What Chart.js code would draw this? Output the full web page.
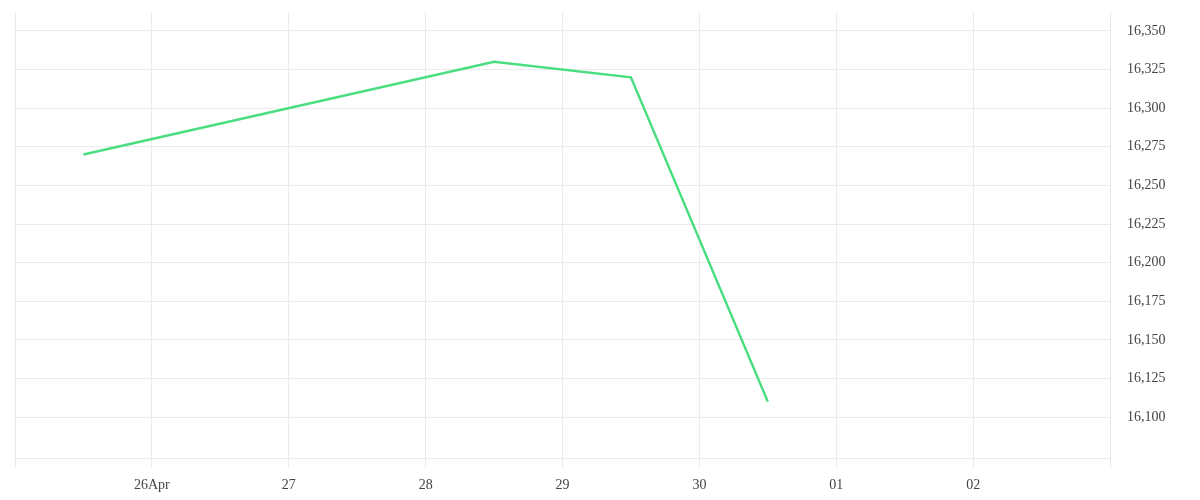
<!DOCTYPE html>
<html>
<head>
<meta charset="utf-8">
<script src="https://cdn.jsdelivr.net/npm/chart.js@4/dist/chart.umd.min.js"></script>
<style>
  html, body { margin: 0; padding: 0; background: #fff; }
  #wrap { width: 1200px; height: 500px; position: relative; }
</style>
</head>
<body>
<div id="wrap"><canvas id="chart"></canvas></div>
<script>
// data
const dates = ['2024-04-25T12:00:00Z', '2024-04-28T12:00:00Z', '2024-04-29T12:00:00Z', '2024-04-30T12:00:00Z'];
const prices = [16270, 16330, 16320, 16110];
const yTicks = [16100, 16125, 16150, 16175, 16200, 16225, 16250, 16275, 16300, 16325, 16350];

const xMin = Date.parse('2024-04-25T00:00:00Z');
const xMax = Date.parse('2024-05-03T00:00:00Z');
const yMin = 16073.5;
const yMax = 16362.3;
const DAY = 86400000;
const months = ['Jan', 'Feb', 'Mar', 'Apr', 'May', 'Jun', 'Jul', 'Aug', 'Sep', 'Oct', 'Nov', 'Dec'];

const points = dates.map((d, i) => ({ x: Date.parse(d), y: prices[i] }));

const gridColor = '#ebebeb';
const font = { family: "'Liberation Serif', serif", size: 14 };

new Chart(document.getElementById('chart'), {
  type: 'line',
  data: {
    datasets: [{
      data: points,
      borderColor: '#4ade80',
      borderWidth: 2.5,
      pointRadius: 0,
      tension: 0,
      fill: false
    }]
  },
  options: {
    responsive: true,
    maintainAspectRatio: false,
    animation: false,
    layout: { padding: { left: 15, top: 12, right: 0, bottom: 0 } },
    plugins: { legend: { display: false }, tooltip: { enabled: false } },
    scales: {
      x: {
        type: 'linear',
        min: xMin,
        max: xMax,
        grid: { color: gridColor, tickLength: 10 },
        border: { color: gridColor },
        afterFit: (s) => { s.height = 42; s.paddingLeft = 0; s.paddingRight = 0; },
        ticks: {
          stepSize: DAY,
          padding: 9,
          maxRotation: 0,
          autoSkip: false,
          color: '#444',
          font: font,
          callback: (v) => {
            if (v <= xMin || v >= xMax) return '';
            const d = new Date(v);
            const day = String(d.getUTCDate()).padStart(2, '0');
            if (v === xMin + DAY) return day + months[d.getUTCMonth()];
            return day;
          }
        }
      },
      y: {
        position: 'right',
        min: yMin,
        max: yMax,
        grid: { color: gridColor, drawTicks: false },
        border: { color: gridColor },
        afterBuildTicks: (s) => { s.ticks = yTicks.map(v => ({ value: v })); },
        afterFit: (s) => { s.width = 90; s.paddingTop = 0; s.paddingBottom = 0; },
        ticks: {
          padding: 17,
          color: '#444',
          font: font,
          callback: (v) => v.toLocaleString('en-US')
        }
      }
    }
  }
});
</script>
</body>
</html>
